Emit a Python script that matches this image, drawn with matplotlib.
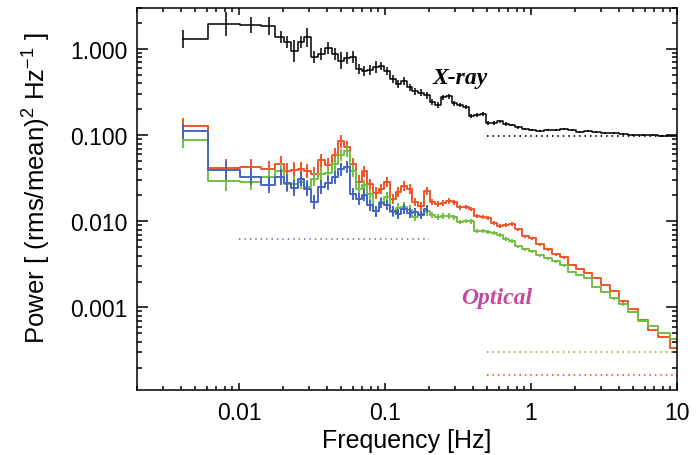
import numpy as np
import matplotlib.pyplot as plt
from matplotlib.ticker import NullFormatter

plt.rcParams['font.family'] = ['Liberation Sans', 'DejaVu Sans']
plt.rcParams['mathtext.fontset'] = 'custom'
plt.rcParams['mathtext.rm'] = 'Liberation Sans'
plt.rcParams['mathtext.it'] = 'Liberation Sans:italic'

# bin centres [Hz], shared by all power spectra
freq = np.array([0.0041, 0.0082, 0.0121, 0.0160, 0.0194, 0.0213, 0.0238, 0.0266,
                 0.0292, 0.0326, 0.0364, 0.0407, 0.0454, 0.0499, 0.0549, 0.0603,
                 0.0663, 0.0718, 0.0789, 0.0867, 0.0939, 0.103, 0.113, 0.123,
                 0.135, 0.148, 0.160, 0.176, 0.194, 0.210, 0.231, 0.250,
                 0.274, 0.297, 0.326, 0.359, 0.388, 0.427, 0.469, 0.507,
                 0.558, 0.614, 0.674, 0.741, 0.815, 0.910, 1.02, 1.15,
                 1.31, 1.48, 1.68, 1.91, 2.17, 2.46, 2.79, 3.21,
                 3.70, 4.27, 5.00, 5.85, 6.85, 8.02, 9.8])

# X-ray power [(rms/mean)^2/Hz]
xray = np.array([1.31, 1.95, 1.90, 1.85, 1.38, 1.21, 0.948, 1.21,
                 1.38, 0.807, 0.875, 1.03, 0.875, 0.73, 0.786, 0.81,
                 0.586, 0.555, 0.570, 0.62, 0.635, 0.555, 0.45, 0.392,
                 0.425, 0.362, 0.325, 0.31, 0.292, 0.242, 0.224, 0.277,
                 0.284, 0.236, 0.224, 0.212, 0.167, 0.171, 0.176, 0.138,
                 0.138, 0.146, 0.135, 0.131, 0.124, 0.118, 0.115, 0.112,
                 0.115, 0.115, 0.118, 0.115, 0.109, 0.112, 0.109, 0.106,
                 0.106, 0.103, 0.100, 0.100, 0.100, 0.098, 0.098])
# 1-sigma errors, in dex
xray_err = np.array([0.105, 0.14, 0.09, 0.10, 0.07, 0.07, 0.13, 0.07,
                     0.11, 0.07, 0.07, 0.07, 0.07, 0.10, 0.07, 0.075,
                     0.06, 0.06, 0.06, 0.07, 0.05, 0.05, 0.05, 0.05,
                     0.05, 0.04, 0.04, 0.04, 0.04, 0.035, 0.03, 0.03,
                     0.03, 0.03, 0.025, 0.025, 0.025, 0.02, 0.02, 0.02,
                     0.02, 0.018, 0.018, 0.016, 0.016, 0.015, 0.015, 0.014,
                     0.014, 0.013, 0.013, 0.012, 0.012, 0.012, 0.012, 0.012,
                     0.012, 0.012, 0.012, 0.012, 0.012, 0.012, 0.012])

# optical power, three bands
opt_red = np.array([0.128, 0.0415, 0.0427, 0.0404, 0.0462, 0.0383, 0.0393, 0.0404,
                    0.0383, 0.0353, 0.051, 0.045, 0.059, 0.085, 0.073, 0.046,
                    0.029, 0.0383, 0.027, 0.0213, 0.0237, 0.0285, 0.0181, 0.0218,
                    0.0256, 0.0237, 0.0167, 0.015, 0.0224, 0.0167, 0.0158, 0.0163,
                    0.0172, 0.0167, 0.0146, 0.0146, 0.0139, 0.0115, 0.0112, 0.0109,
                    0.00953, 0.0088, 0.00904, 0.00927, 0.00811, 0.00673, 0.00638, 0.00543,
                    0.00475, 0.00416, 0.00384, 0.0031, 0.00279, 0.0025, 0.00219, 0.00182,
                    0.00155, 0.00118, 0.000955, 0.000712, 0.000545, 0.000452, 0.000337])
opt_green = np.array([0.0877, 0.0293, 0.0285, 0.0326, 0.0383, 0.027, 0.027, 0.0285,
                      0.0249, 0.0309, 0.0353, 0.0363, 0.0462, 0.0589, 0.0654, 0.0383,
                      0.0237, 0.0263, 0.0207, 0.0131, 0.0167, 0.0191, 0.0128, 0.0142,
                      0.0146, 0.0135, 0.0112, 0.0121, 0.0131, 0.0118, 0.0112, 0.0115,
                      0.0115, 0.0112, 0.0098, 0.0101, 0.0100, 0.00769, 0.00769, 0.0075,
                      0.0073, 0.00691, 0.00621, 0.00589, 0.00515, 0.00475, 0.00451, 0.00405,
                      0.00374, 0.00345, 0.0031, 0.00257, 0.00237, 0.00219, 0.00172, 0.00151,
                      0.00128, 0.00109, 0.000881, 0.000693, 0.000607, 0.000503, 0.000428])
opt_blue = np.array([0.111, 0.0393, 0.0326, 0.0263, 0.0326, 0.0278, 0.0243, 0.0309,
                     0.024, 0.0167, 0.0249, 0.0278, 0.0326, 0.0404, 0.0427, 0.0207,
                     0.0181, 0.0202, 0.0154, 0.0131, 0.0163, 0.0154, 0.0131, 0.0121,
                     0.0139, 0.0125, 0.0128, 0.0118, 0.0139])
opt_err = np.array([0.09, 0.11, 0.09, 0.09, 0.09, 0.09, 0.09, 0.085,
                    0.085, 0.08, 0.08, 0.08, 0.075, 0.075, 0.07, 0.07,
                    0.07, 0.065, 0.065, 0.065, 0.06, 0.06, 0.06, 0.055,
                    0.055, 0.055, 0.05, 0.05, 0.05, 0.035, 0.033, 0.032,
                    0.031, 0.030, 0.028, 0.027, 0.026, 0.025, 0.024, 0.023,
                    0.022, 0.021, 0.02, 0.02, 0.019, 0.018, 0.018, 0.017,
                    0.017, 0.016, 0.016, 0.015, 0.015, 0.015, 0.015, 0.015,
                    0.015, 0.015, 0.015, 0.015, 0.015, 0.015, 0.015])

# white-noise levels: (f_lo, f_hi, power)
noise_xray = (0.5, 10.0, 0.098)
noise_blue = (0.01, 0.2, 0.0062)
noise_green = (0.5, 10.0, 3.0e-4)
noise_red = (0.5, 10.0, 1.66e-4)

RED = '#EF5528'
GREEN = '#73BF45'
BLUE = '#4563C2'
XCOL = '#000000'


def psd(ax, f, p, err, color, lw):
    ax.step(f, p, where='mid', color=color, lw=lw)
    lo = p * (1 - 10 ** -err)
    hi = p * (10 ** err - 1)
    ax.errorbar(f, p, yerr=[lo, hi], fmt='none', ecolor=color,
                elinewidth=lw, capsize=0)


def noise(ax, lvl, color):
    ax.plot([lvl[0], lvl[1]], [lvl[2], lvl[2]], color=color, lw=1.3,
            ls=(0, (0.8, 2.2)))


fig = plt.figure(figsize=(7.0, 4.56), dpi=100)
ax = fig.add_axes([137 / 700, 65 / 456, 540 / 700, 382 / 456])
ax.set_xscale('log')
ax.set_yscale('log')

psd(ax, freq, xray, xray_err, XCOL, 1.1)
psd(ax, freq, opt_red, opt_err, RED, 1.4)
psd(ax, freq, opt_green, opt_err, GREEN, 1.4)
nb = len(opt_blue)
psd(ax, freq[:nb], opt_blue, opt_err[:nb], BLUE, 1.4)

noise(ax, noise_xray, 'black')
noise(ax, noise_blue, '#6F80D2')
noise(ax, noise_green, GREEN)
noise(ax, noise_red, RED)

ax.text(0.598, 0.817, 'X-ray', transform=ax.transAxes, ha='center', va='center',
        family='Liberation Serif', weight='bold', style='italic', size=17)
ax.text(0.667, 0.243, 'Optical', transform=ax.transAxes, ha='center', va='center',
        family='Liberation Serif', weight='bold', style='italic', size=17,
        color='#C54A9F')

ax.set_xlim(0.002, 10)
ax.set_ylim(1.1e-4, 3)
ax.set_xticks([0.01, 0.1, 1, 10])
ax.set_xticklabels(['0.01', '0.1', '1', '10'])
ax.set_yticks([0.001, 0.01, 0.1, 1])
ax.set_yticklabels(['0.001', '0.010', '0.100', '1.000'])
ax.xaxis.set_minor_formatter(NullFormatter())
ax.yaxis.set_minor_formatter(NullFormatter())

ax.tick_params(which='both', direction='in', top=True, right=True, width=1.1,
               labelsize=16.5)
ax.tick_params(axis='x', which='major', length=5, pad=8)
ax.tick_params(axis='x', which='minor', length=2.7)
ax.tick_params(axis='y', which='major', length=8, pad=7)
ax.tick_params(axis='y', which='minor', length=3.6)
for s in ax.spines.values():
    s.set_linewidth(1.1)

ax.set_xlabel('Frequency [Hz]', size=18)
ax.xaxis.set_label_coords(0.5, -0.1)
ax.set_ylabel(r'Power [ (rms/mean)$^2$ Hz$^{-1}$ ]', size=18.5, va='center')
ax.yaxis.set_label_coords(-0.185, 0.53)

fig.savefig('out.png', dpi=100)
